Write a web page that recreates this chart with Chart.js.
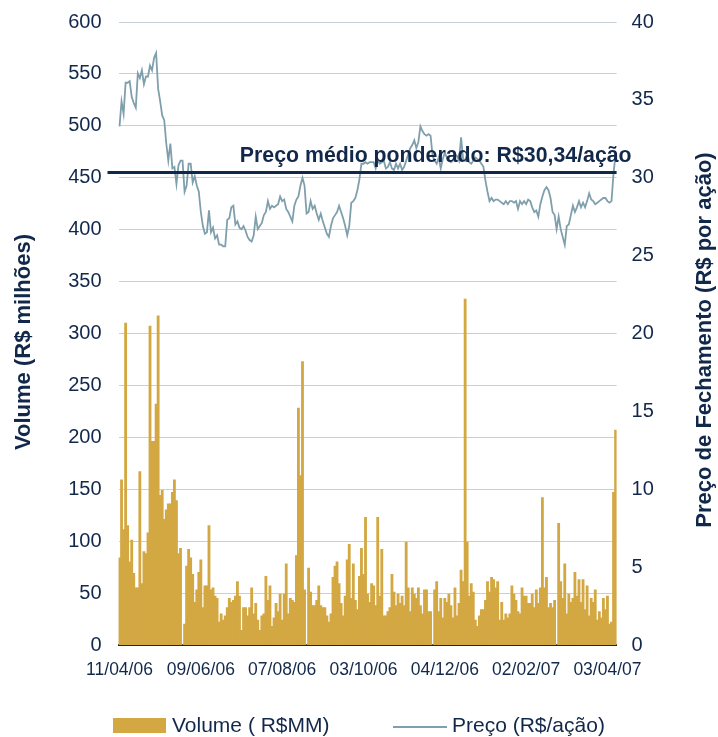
<!DOCTYPE html>
<html>
<head>
<meta charset="utf-8">
<script src="https://cdn.jsdelivr.net/npm/chart.js@4.4.0/dist/chart.umd.min.js"></script>
<style>
  html, body { margin: 0; padding: 0; background: #fff; }
</style>
</head>
<body>
<canvas id="grafico" width="718" height="737"></canvas>
<script>
// Volume diário negociado (R$ milhões)
const volume = [
  84, 159, 111, 310, 115, 80, 101, 69, 55, 55, 167, 59, 90, 88, 108, 307, 196, 196, 232, 317,
  144, 149, 121, 130, 136, 136, 147, 159, 139, 88, 93, 0,
  20, 76, 92, 84, 68, 41, 53, 70, 82, 36, 57, 57, 115, 53, 55, 47, 45, 22, 30, 24,
  28, 36, 45, 41, 43, 47, 61, 47, 14, 36, 36, 28, 36, 55, 30, 40, 24, 14, 28, 30,
  66, 43, 57, 18, 26, 40, 32, 49, 24, 49, 78, 30, 45, 43, 41, 86, 228, 163, 273, 53, 0,
  74, 51, 38, 38, 43, 57, 38, 36, 36, 28, 22, 30, 65, 76, 80, 59, 40, 28, 47, 82,
  97, 45, 78, 43, 34, 66, 93, 68, 123, 49,
  41, 59, 57, 38, 123, 47, 92, 28, 28, 32, 36, 68, 51, 38, 49, 40, 47, 38, 99, 55,
  32, 55, 49, 45, 55, 38, 30, 53, 53, 32, 32, 0,
  53, 61, 32, 45, 26, 45, 41, 49, 38, 26, 55, 28, 40, 72, 61, 333, 99, 47, 59, 51,
  24, 18, 28, 34, 34, 43, 61, 51, 65, 63, 55, 61, 24, 41, 24, 30, 26, 30, 57, 49,
  43, 32, 30, 55, 47, 47, 40, 40, 49, 36, 53, 40, 55, 142, 55, 65, 36, 40, 36, 43, 0,
  117, 61, 45, 78, 30, 49, 41, 45, 70, 47, 63, 41, 63, 34, 57, 28, 45, 41, 53, 24,
  32, 26, 45, 34, 47, 20, 22, 147, 207
];

// Preço de fechamento (R$/ação)
const preco = [
  33.3, 34.9, 34.1, 36.1, 36.1, 36.2, 35.2, 34.8, 34.5, 36.7, 36.4, 36.9, 36.0, 36.5, 36.5, 37.2, 36.9, 37.7, 38.0, 35.7,
  34.9, 34.0, 33.7, 32.2, 31.1, 32.2, 30.6, 30.7, 29.6, 30.8, 31.1, 31.1, 29.1, 29.5, 30.9, 30.9, 29.7, 30.1, 29.5, 29.1,
  27.8, 26.9, 26.4, 26.5, 27.9, 26.5, 26.8, 26.1, 26.3, 25.7, 25.7, 25.6, 25.6, 27.3, 27.4, 28.1, 28.2, 27.0, 27.2, 26.8,
  26.7, 26.9, 26.6, 26.2, 26.0, 25.9, 26.3, 27.5, 26.7, 26.9, 27.1, 27.6, 27.8, 28.5, 28.0, 28.2, 28.1, 28.2, 28.3, 28.8,
  28.5, 28.6, 28.0, 27.8, 27.5, 27.2, 28.2, 28.6, 28.8, 29.5, 30.0, 29.5, 27.7, 27.8, 28.5, 28.0, 28.2, 27.7, 27.3, 27.7,
  27.2, 26.8, 26.4, 26.2, 26.9, 27.4, 27.6, 27.8, 28.2, 27.8, 27.4, 26.9, 26.3, 26.9, 28.4, 28.5, 28.7, 29.2, 29.9, 30.9,
  30.9, 31.0, 30.9, 31.0, 31.0, 31.0, 30.6, 31.1, 30.9, 31.0, 31.1, 30.6, 30.7, 31.0, 30.6, 30.5, 30.9, 30.6, 30.9, 30.5,
  30.7, 31.1, 31.5, 31.9, 32.1, 32.4, 31.9, 32.3, 33.3, 33.0, 32.8, 32.7, 32.8, 32.7, 31.4, 31.1, 30.9, 31.3, 30.6, 31.2,
  31.6, 31.3, 31.1, 31.0, 31.1, 31.5, 31.4, 31.1, 32.6, 31.2, 31.1, 31.6, 31.0, 30.9, 31.1, 31.3, 31.2, 31.1, 30.9, 30.7,
  29.8, 29.1, 28.5, 28.7, 28.5, 28.6, 28.6, 28.5, 28.4, 28.3, 28.5, 28.3, 28.5, 28.5, 28.4, 28.5, 28.0, 28.5, 28.3, 28.5,
  28.3, 28.6, 28.5, 28.1, 27.8, 27.9, 27.5, 28.3, 28.8, 29.2, 29.4, 29.2, 28.7, 27.8, 27.6, 26.7, 27.5, 26.7, 26.2, 25.7,
  26.9, 27.0, 27.6, 28.2, 27.8, 28.1, 28.5, 28.1, 28.4, 28.1, 28.5, 29.0, 28.6, 28.5, 28.3, 28.4, 28.5, 28.6, 28.7, 28.7,
  28.5, 28.4, 28.5, 30.3, 31.5
];

// Rótulos do eixo X (a cada 40 pregões)
const rotulosData = ['11/04/06', '09/06/06', '07/08/06', '03/10/06', '04/12/06', '02/02/07', '03/04/07'];
const posRotulos = [0, 40, 80, 120, 160, 200, 240];

const precoMedio = 30.34;
const textoMedio = 'Preço médio ponderado: R$30,34/ação';

const AZUL = '#12284a';
const DOURADO = '#d3a843';
const CINZA = '#7f9fac';
const FONTE = '"Liberation Sans", Arial, Helvetica, sans-serif';

const pregoes = volume.map((v, i) => i);

// Linha do preço médio, títulos dos eixos e legenda
const extras = {
  id: 'extras',
  afterDatasetsDraw(chart) {
    const { ctx, chartArea: a, scales } = chart;
    const y = scales.y1.getPixelForValue(precoMedio);
    ctx.save();
    ctx.strokeStyle = AZUL;
    ctx.lineWidth = 3;
    ctx.beginPath();
    ctx.moveTo(a.left - 11, y);
    ctx.lineTo(a.right, y);
    ctx.stroke();

    ctx.fillStyle = AZUL;
    ctx.font = 'bold 21.3px ' + FONTE;
    ctx.textAlign = 'right';
    ctx.textBaseline = 'alphabetic';
    ctx.fillText(textoMedio, a.right + 15, y - 10);
    ctx.restore();
  },
  afterDraw(chart) {
    const { ctx } = chart;
    const ds = chart.data.datasets;
    ctx.save();
    ctx.fillStyle = AZUL;
    ctx.font = 'bold 22px ' + FONTE;
    ctx.textAlign = 'center';
    ctx.textBaseline = 'middle';

    ctx.save();
    ctx.translate(24, 342);
    ctx.rotate(-Math.PI / 2);
    ctx.fillText('Volume (R$ milhões)', 0, 0);
    ctx.restore();

    ctx.save();
    ctx.translate(705, 340);
    ctx.rotate(-Math.PI / 2);
    ctx.fillText('Preço de Fechamento (R$ por ação)', 0, 0);
    ctx.restore();

    // legenda
    ctx.font = '21px ' + FONTE;
    ctx.textAlign = 'left';
    ctx.fillStyle = DOURADO;
    ctx.fillRect(113, 718, 53, 15);
    ctx.fillStyle = AZUL;
    ctx.fillText(ds[1].label, 172, 726);

    ctx.strokeStyle = CINZA;
    ctx.lineWidth = 2;
    ctx.beginPath();
    ctx.moveTo(393, 727);
    ctx.lineTo(447, 727);
    ctx.stroke();
    ctx.fillText(ds[0].label, 452, 726);
    ctx.restore();
  }
};

new Chart(document.getElementById('grafico'), {
  type: 'bar',
  data: {
    labels: pregoes,
    datasets: [
      {
        type: 'line',
        label: 'Preço (R$/ação)',
        data: preco,
        yAxisID: 'y1',
        borderColor: CINZA,
        borderWidth: 1.8,
        pointRadius: 0,
        tension: 0,
        order: 1
      },
      {
        type: 'bar',
        label: 'Volume ( R$MM)',
        data: volume,
        yAxisID: 'y',
        backgroundColor: DOURADO,
        borderWidth: 0,
        inflateAmount: 0.4,
        barPercentage: 1,
        categoryPercentage: 1,
        order: 2
      }
    ]
  },
  options: {
    responsive: false,
    devicePixelRatio: 1,
    animation: false,
    layout: { padding: { left: 68.5, right: 41.4, top: 22, bottom: 62 } },
    plugins: {
      legend: { display: false },
      tooltip: { enabled: false }
    },
    scales: {
      x: {
        offset: true,
        grid: { display: false, drawTicks: false },
        border: { display: true, color: AZUL, width: 2 },
        ticks: {
          autoSkip: false,
          maxRotation: 0,
          padding: 15,
          color: AZUL,
          font: { size: 17.5, family: FONTE },
          callback: (v) => rotulosData[posRotulos.indexOf(v)]
        },
        afterBuildTicks(axis) {
          axis.ticks = posRotulos.map(v => ({ value: v }));
        },
        afterFit(s) { s.height = 30; }
      },
      y: {
        position: 'left',
        min: 0,
        max: 600,
        ticks: {
          stepSize: 50,
          padding: 0,
          color: AZUL,
          font: { size: 20, family: FONTE }
        },
        grid: {
          color: '#c6d0d6',
          lineWidth: 1,
          drawTicks: true,
          tickLength: 17,
          tickColor: 'rgba(0,0,0,0)'
        },
        border: { display: false },
        afterFit(s) { s.width = 50; }
      },
      y1: {
        position: 'right',
        min: 0,
        max: 40,
        ticks: {
          stepSize: 5,
          padding: 0,
          color: AZUL,
          font: { size: 20, family: FONTE }
        },
        grid: {
          display: true,
          drawOnChartArea: false,
          drawTicks: true,
          tickLength: 15,
          color: 'rgba(0,0,0,0)'
        },
        border: { display: false },
        afterFit(s) { s.width = 60; }
      }
    }
  },
  plugins: [extras]
});
</script>
</body>
</html>
